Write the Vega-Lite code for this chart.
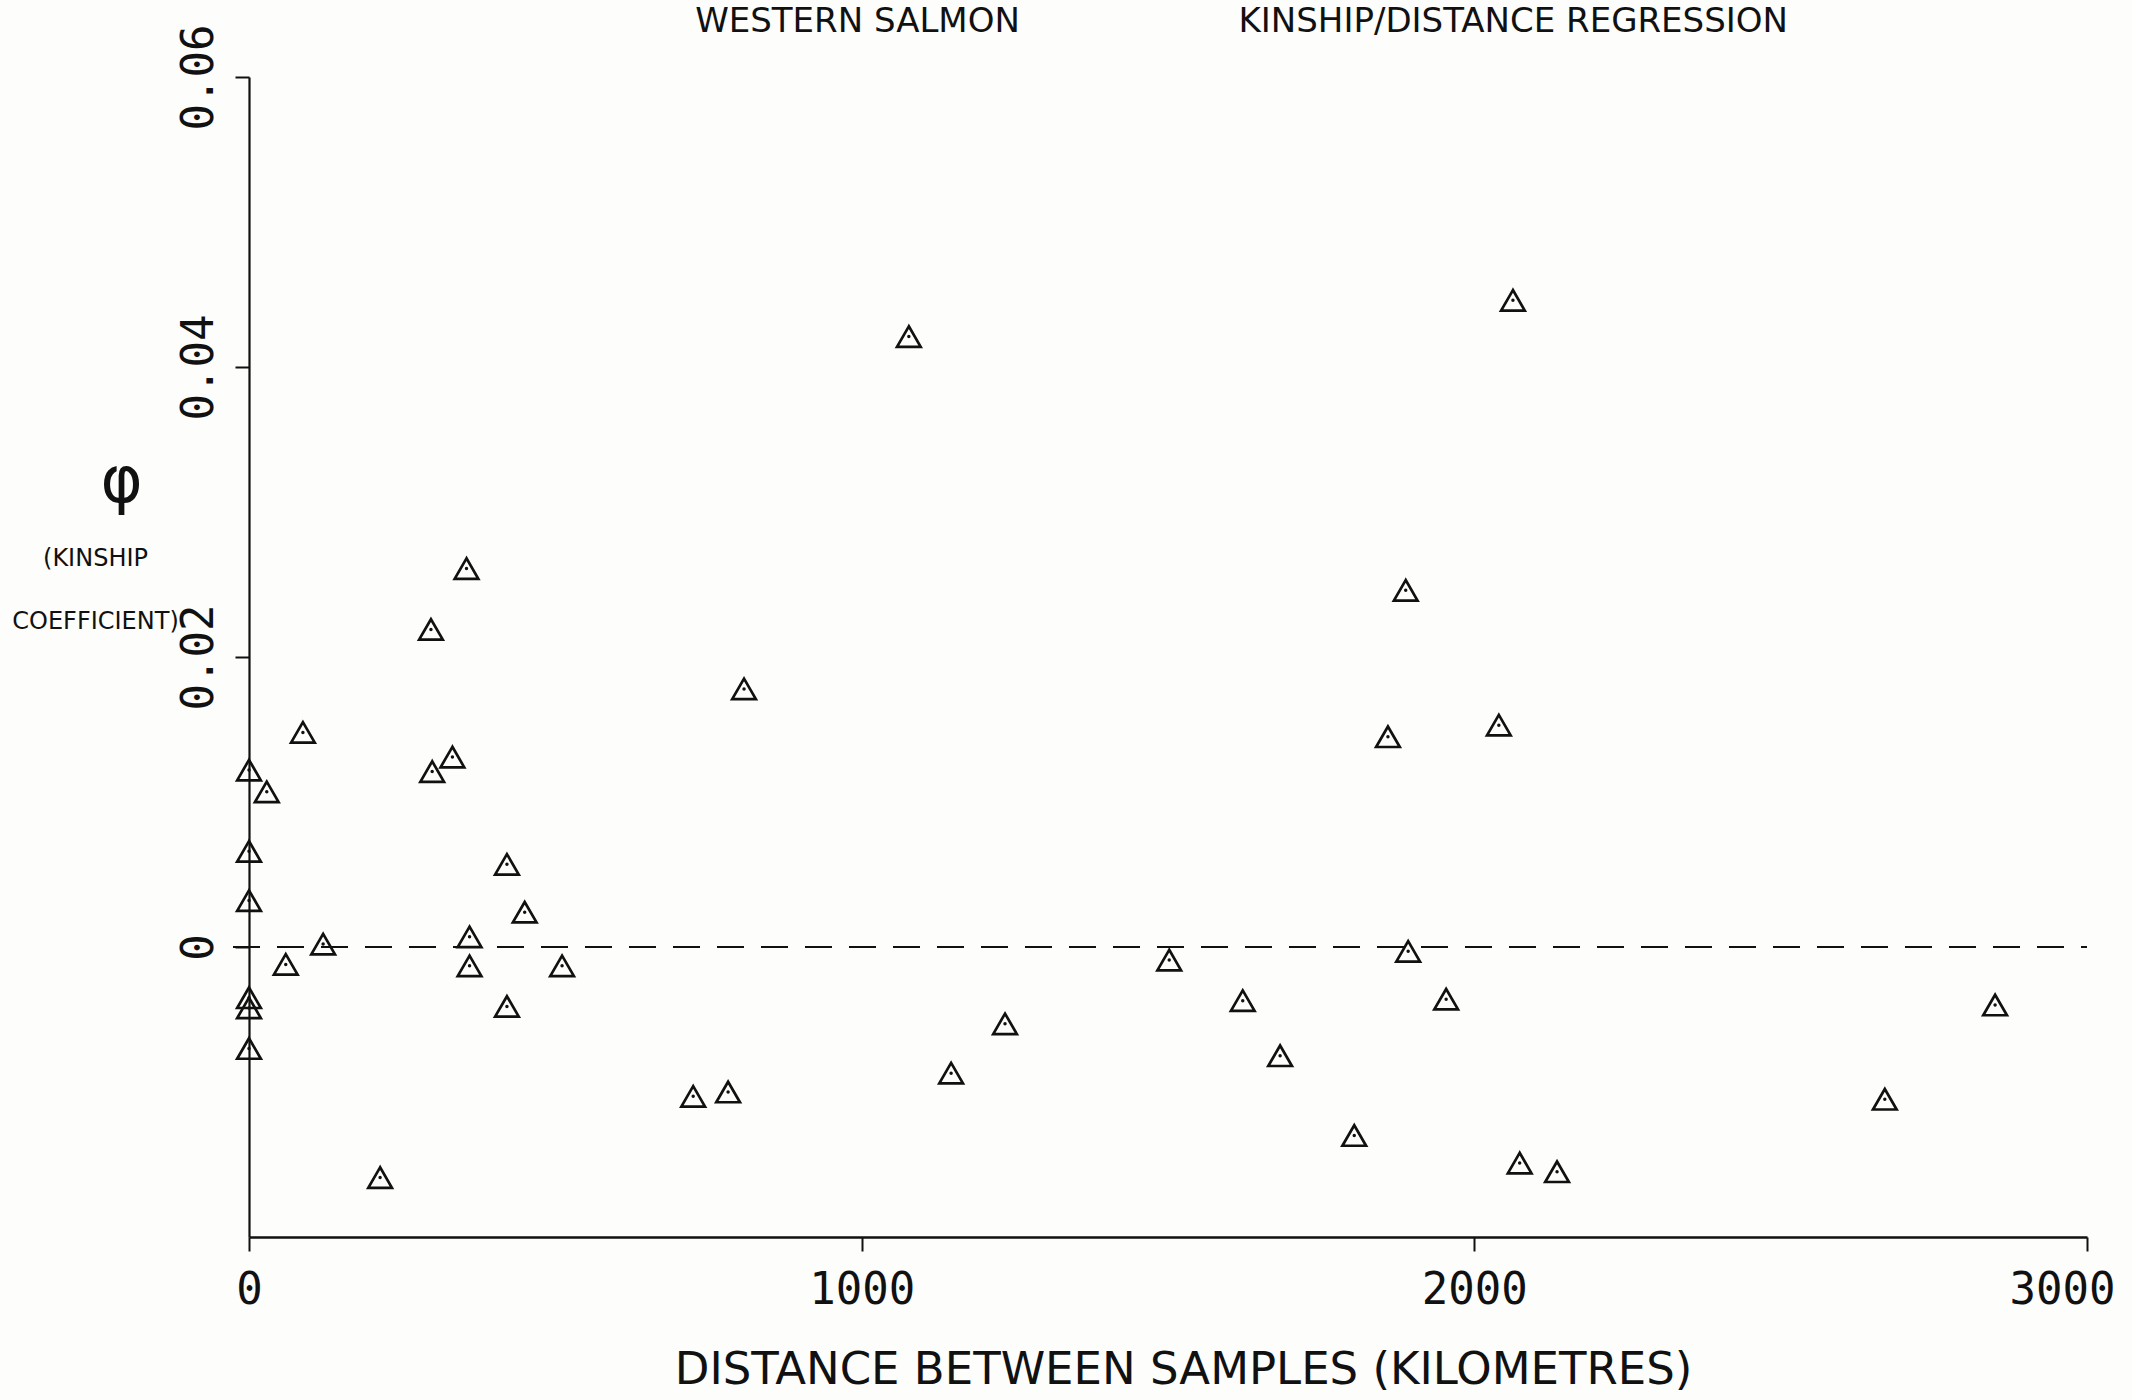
{
  "$schema": "https://vega.github.io/schema/vega-lite/v6.json",
  "autosize": {"type": "none"},
  "padding": {"left": 249, "top": 77, "right": 45, "bottom": 163},
  "width": 1838,
  "height": 1160,
  "background": "#fdfdfb",
  "config": {"view": {"stroke": null}},
  "data": {
    "values": [
      {"d": 0, "phi": 0.0122}, {"d": 29, "phi": 0.0107}, {"d": 0, "phi": 0.0066}, {"d": 0, "phi": 0.0032},
      {"d": 0, "phi": -0.0035}, {"d": 0, "phi": -0.0042}, {"d": 0, "phi": -0.0070}, {"d": 88, "phi": 0.0148},
      {"d": 60, "phi": -0.0012}, {"d": 121, "phi": 0.0002}, {"d": 214, "phi": -0.0159}, {"d": 297, "phi": 0.0219},
      {"d": 355, "phi": 0.0261}, {"d": 299, "phi": 0.0121}, {"d": 332, "phi": 0.0131}, {"d": 360, "phi": 0.0007},
      {"d": 360, "phi": -0.0013}, {"d": 421, "phi": 0.0057}, {"d": 450, "phi": 0.0024}, {"d": 421, "phi": -0.0041},
      {"d": 511, "phi": -0.0013},
      {"d": 1077, "phi": 0.0421}, {"d": 808, "phi": 0.0178}, {"d": 1234, "phi": -0.0053}, {"d": 1146, "phi": -0.0087},
      {"d": 725, "phi": -0.0103}, {"d": 782, "phi": -0.0100},
      {"d": 1502, "phi": -0.0009}, {"d": 1622, "phi": -0.0037}, {"d": 1683, "phi": -0.0075}, {"d": 1892, "phi": -0.0003},
      {"d": 1954, "phi": -0.0036}, {"d": 1804, "phi": -0.0130}, {"d": 2074, "phi": -0.0149}, {"d": 2135, "phi": -0.0155},
      {"d": 2063, "phi": 0.0446}, {"d": 1888, "phi": 0.0246}, {"d": 1859, "phi": 0.0145}, {"d": 2040, "phi": 0.0153},
      {"d": 2850, "phi": -0.0040}, {"d": 2670, "phi": -0.0105}
    ]
  },
  "resolve": {"axis": {"x": "independent", "y": "independent"}},
  "layer": [
    {
      "mark": {"type": "point", "shape": "triangle-up", "size": 560, "filled": false, "stroke": "#111", "strokeWidth": 2.7, "opacity": 1},
      "encoding": {
        "x": {
          "field": "d", "type": "quantitative",
          "scale": {"domain": [0, 3000], "nice": false, "zero": false},
          "axis": {
            "orient": "bottom", "values": [0, 1000, 2000, 3000], "format": "d",
            "labelFont": "DejaVu Sans Mono", "labelFontSize": 44, "labelColor": "#111",
            "labelBaseline": "alphabetic", "labelPadding": 52, "labelAngle": 0,
            "labelOffset": {"condition": {"test": "datum.value == 3000", "value": -25}, "value": 0},
            "labelFlush": false, "labelOverlap": false, "labelBound": false,
            "tickSize": 14, "tickWidth": 2, "tickColor": "#111",
            "domainColor": "#111", "domainWidth": 2.6, "grid": false,
            "title": "DISTANCE BETWEEN SAMPLES (KILOMETRES)",
            "titleFont": "DejaVu Sans", "titleFontSize": 45, "titleFontWeight": "normal", "titleColor": "#111",
            "titleAlign": "center", "titleBaseline": "alphabetic", "titleX": 934, "titleY": 146
          }
        },
        "y": {
          "field": "phi", "type": "quantitative",
          "scale": {"domain": [-0.02, 0.06], "nice": false, "zero": false},
          "axis": {
            "orient": "left", "values": [0, 0.02, 0.04, 0.06],
            "labelExpr": "datum.value == 0 ? '0' : format(datum.value, '.2f')",
            "labelAngle": -90, "labelAlign": "center", "labelBaseline": "alphabetic",
            "labelFont": "DejaVu Sans Mono", "labelFontSize": 44, "labelColor": "#111",
            "labelPadding": 23, "labelFlush": false, "labelOverlap": false, "labelBound": false,
            "tickSize": 14, "tickWidth": 2, "tickColor": "#111",
            "domainColor": "#111", "domainWidth": 2.2, "grid": false,
            "title": ["(KINSHIP", "COEFFICIENT)"],
            "titleAngle": 0, "titleAlign": "center", "titleBaseline": "alphabetic",
            "titleX": -154, "titleY": 488, "titleLineHeight": 63,
            "titleFont": "DejaVu Sans", "titleFontSize": 24, "titleFontWeight": "normal", "titleColor": "#111"
          }
        }
      }
    },
    {
      "mark": {"type": "point", "shape": "circle", "size": 12, "filled": true, "color": "#111", "opacity": 1},
      "encoding": {
        "x": {
          "field": "d", "type": "quantitative",
          "axis": {
            "orient": "top", "labels": false, "ticks": false, "domain": false, "grid": false,
            "title": "KINSHIP/DISTANCE REGRESSION",
            "titleAlign": "left", "titleBaseline": "alphabetic", "titleX": 989, "titleY": -46,
            "titleFont": "DejaVu Sans", "titleFontSize": 34, "titleFontWeight": "normal", "titleColor": "#111"
          }
        },
        "y": {
          "field": "phi", "type": "quantitative",
          "axis": {
            "orient": "left", "labels": false, "ticks": false, "domain": false, "grid": false,
            "title": "φ", "titleAngle": 0, "titleAlign": "center", "titleBaseline": "alphabetic",
            "titleX": -128, "titleY": 424,
            "titleFont": "DejaVu Sans", "titleFontSize": 64, "titleFontWeight": "normal", "titleColor": "#111"
          }
        }
      }
    },
    {
      "mark": {"type": "rule", "color": "#111", "strokeWidth": 2.2, "strokeDash": [26, 18]},
      "encoding": {
        "x": {
          "datum": -25, "type": "quantitative",
          "axis": {
            "orient": "top", "labels": false, "ticks": false, "domain": false, "grid": false,
            "title": "WESTERN SALMON",
            "titleAlign": "center", "titleBaseline": "alphabetic", "titleX": 608, "titleY": -46,
            "titleFont": "DejaVu Sans", "titleFontSize": 34, "titleFontWeight": "normal", "titleColor": "#111"
          }
        },
        "x2": {"datum": 3000},
        "y": {"datum": 0, "type": "quantitative", "axis": null}
      }
    }
  ]
}
